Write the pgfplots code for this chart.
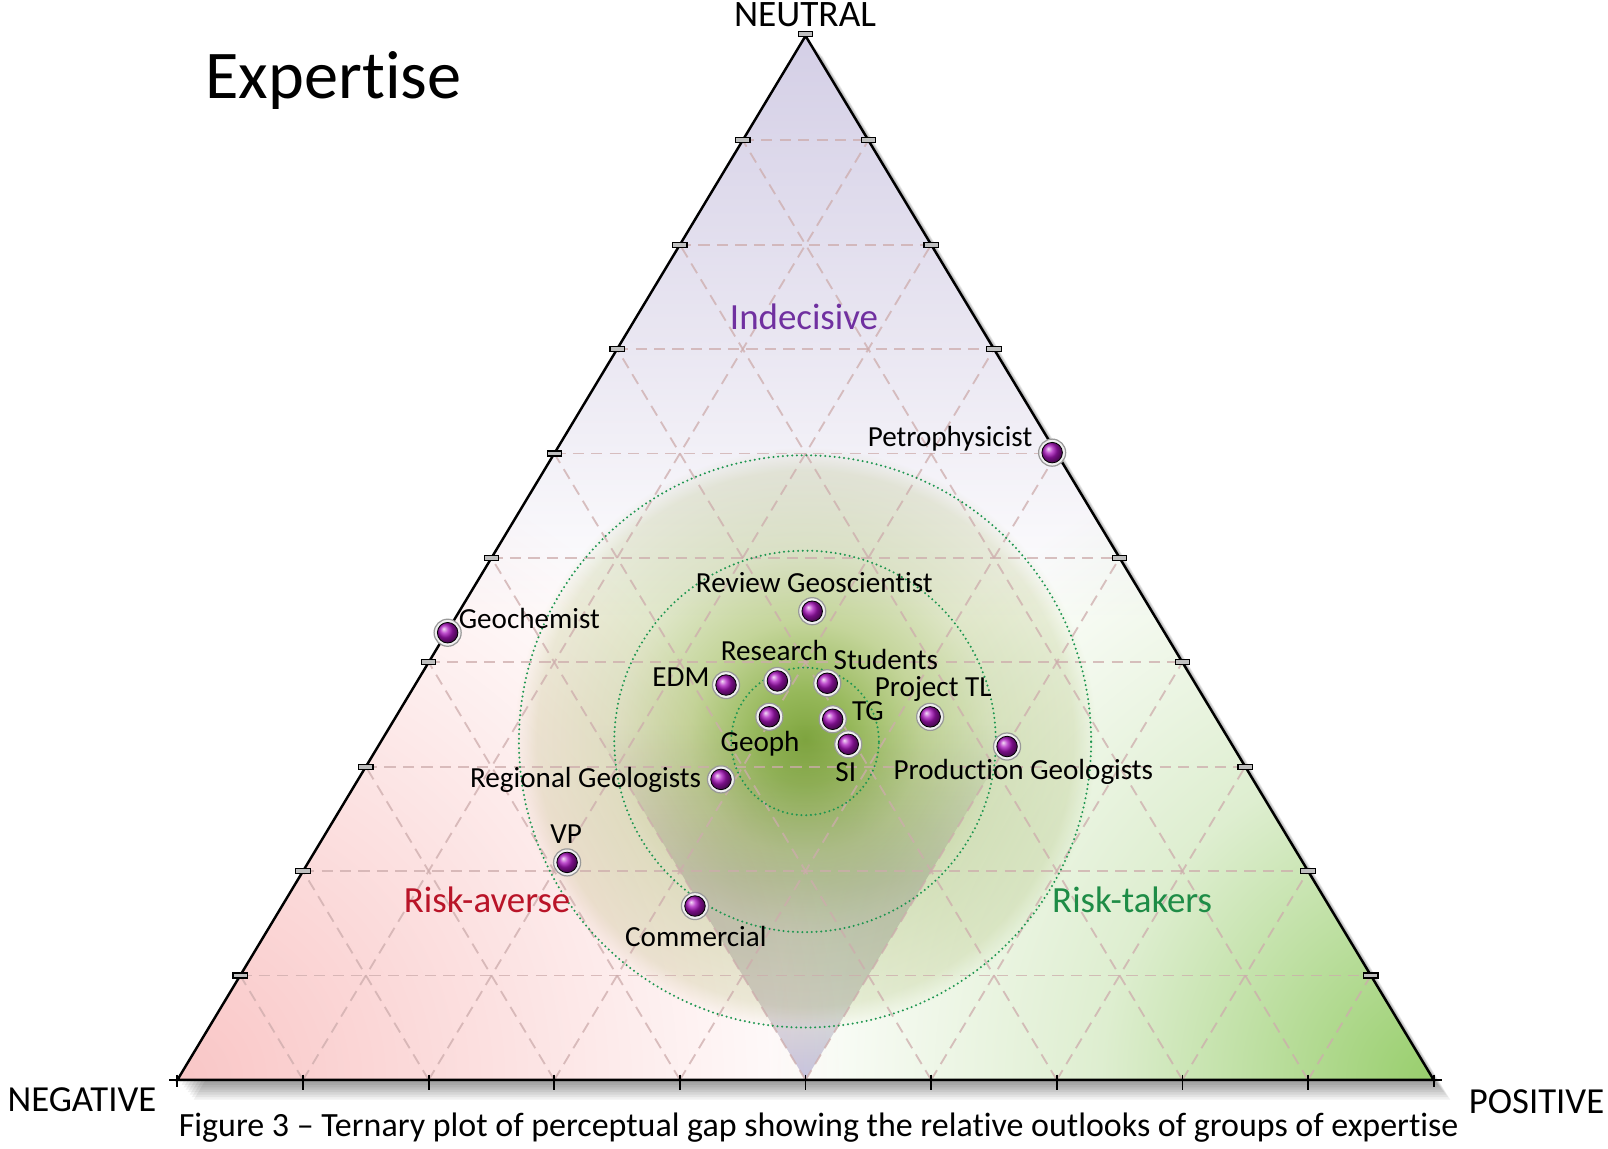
\documentclass[border=0pt]{standalone}
\usepackage{pgfplots}
\pgfplotsset{compat=1.18}
\usepackage{fontspec}
\setmainfont{Carlito}[Ligatures=NoCommon]

% colours
\definecolor{lavtop}{RGB}{212,207,230}
\definecolor{lavmid}{RGB}{234,231,242}
\definecolor{pink0}{RGB}{249,198,198}
\definecolor{pink1}{RGB}{252,226,226}
\definecolor{grn0}{RGB}{152,206,108}
\definecolor{grn1}{RGB}{222,238,208}
\definecolor{glow0}{RGB}{128,166,64}
\definecolor{glow1}{RGB}{150,184,90}
\definecolor{glow2}{RGB}{196,213,154}
\definecolor{glow3}{RGB}{224,231,202}
\definecolor{glow4}{RGB}{236,239,220}
\definecolor{wedgelav}{RGB}{202,198,230}
\definecolor{wedgegrey}{RGB}{221,219,223}
\definecolor{gridc}{RGB}{205,172,172}
\definecolor{circc}{RGB}{30,150,80}
\definecolor{indec}{RGB}{112,48,160}
\definecolor{averse}{RGB}{185,20,40}
\definecolor{takers}{RGB}{30,140,70}
\definecolor{ballc}{RGB}{170,20,190}

% a path's bounding box takes the middle 25bp..75bp of a shading
\pgfdeclareverticalshading{lavshade}{100bp}{color(0bp)=(white); color(47bp)=(white); color(60bp)=(lavmid); color(75bp)=(lavtop); color(100bp)=(lavtop)}
\pgfdeclareverticalshading{wedge}{100bp}{color(0bp)=(wedgelav); color(25bp)=(wedgelav); color(33bp)=(wedgegrey); color(50bp)=(wedgegrey); color(70bp)=(white); color(100bp)=(white)}
\pgfdeclareradialshading{pinkglow}{\pgfpoint{0bp}{0bp}}{color(0bp)=(pink0); color(12.5bp)=(pink1); color(25bp)=(white); color(50bp)=(white)}
\pgfdeclareradialshading{greenglow}{\pgfpoint{0bp}{0bp}}{color(0bp)=(grn0); color(12.5bp)=(grn1); color(25bp)=(white); color(50bp)=(white)}
\pgfdeclareradialshading{glow}{\pgfpoint{0bp}{0bp}}{color(0bp)=(glow0); color(4bp)=(glow1); color(10bp)=(glow2); color(16.5bp)=(glow3); color(23bp)=(glow4); color(25bp)=(white); color(50bp)=(white)}

\newcommand\lblfont{\fontsize{14.2}{17}\selectfont}
\newcommand\regfont{\fontsize{18}{21}\selectfont}

% one group: x, y, label anchor, label dx, label dy, label
\newcommand\grp[6]{%
  \addplot[only marks, mark=*, mark size=6.6pt,
    mark options={fill=white!88!gray, draw=gray!80, line width=0.6pt}]
    coordinates {(#1,#2)};
  \addplot[only marks, mark=ball, mark size=5pt, mark options={ball color=ballc},
    nodes near coords={#6},
    every node near coord/.append style={anchor=#3, xshift=#4pt, yshift=#5pt,
      font=\lblfont, text=black, inner sep=0pt}]
    coordinates {(#1,#2)};
}

\begin{document}
\begin{tikzpicture}
\begin{axis}[
    at={(86.5pt,33.5pt)}, anchor=south west,
    scale only axis, width=612.5pt, height=509pt,
    xmin=0, xmax=1, ymin=0, ymax=1,
    hide axis, clip=false,
]
% drop shadow of the triangle
\pgfplotsinvokeforeach{1,...,8}{
  \fill[black, opacity=0.06, xshift=#1*1pt, yshift=-#1*1.2pt]
    (axis cs:0,0) -- (axis cs:1,0) -- (axis cs:0.5,1) -- cycle;
}
\fill[white] (axis cs:0,0) -- (axis cs:1,0) -- (axis cs:0.5,1) -- cycle;

% background colouring
\begin{scope}
  \clip (axis cs:0,0) -- (axis cs:1,0) -- (axis cs:0.5,1) -- cycle;
  \shade[shading=lavshade] (axis cs:0,0) rectangle (axis cs:1,1);
  \begin{scope}[blend mode=multiply]
    \shade[shading=pinkglow] (axis cs:0,0) circle[radius=325pt];
    \shade[shading=greenglow] (axis cs:1,0) circle[radius=325pt];
    \shade[shading=wedge] (axis cs:0.5,0) -- (axis cs:0.31,0.38) -- (axis cs:0.69,0.38) -- cycle;
    \shade[shading=glow] (axis cs:0.4996,0.3271) circle[radius=142pt];
  \end{scope}
\end{scope}

% dashed ternary grid
\pgfplotsinvokeforeach{1,...,9}{
  \draw[gridc, opacity=0.75, line width=0.9pt, dash pattern=on 5.5pt off 3.5pt]
    (axis cs:{#1/20},{#1/10}) -- (axis cs:{1-#1/20},{#1/10});
  \draw[gridc, opacity=0.75, line width=0.9pt, dash pattern=on 5.5pt off 3.5pt]
    (axis cs:{#1/10},0) -- (axis cs:{0.5+#1/20},{1-#1/10});
  \draw[gridc, opacity=0.75, line width=0.9pt, dash pattern=on 5.5pt off 3.5pt]
    (axis cs:{#1/10},0) -- (axis cs:{#1/20},{#1/10});
}

% triangle and ticks
\draw[black, line width=1.2pt, line join=miter]
  (axis cs:0,0) -- (axis cs:1,0) -- (axis cs:0.5,1) -- cycle;
\pgfplotsinvokeforeach{1,...,9}{
  \draw[black, line width=0.9pt] (axis cs:{#1/10},0) ++(0,2.5pt) -- ++(0,-7.5pt);
  \draw[black, fill=gray!50, line width=0.6pt] (axis cs:{#1/20},{#1/10}) ++(-3.5pt,-1.2pt) rectangle ++(7pt,2.4pt);
  \draw[black, fill=gray!50, line width=0.6pt] (axis cs:{1-#1/20},{#1/10}) ++(-3.5pt,-1.2pt) rectangle ++(7pt,2.4pt);
}
\draw[black, fill=gray!50, line width=0.6pt] (axis cs:0.5,1) ++(-3.5pt,-0.4pt) rectangle ++(7pt,2.4pt);
\draw[black, line width=0.9pt] (axis cs:0,0) ++(-4pt,0) -- ++(8pt,0) (axis cs:0,0) ++(0,2.5pt) -- ++(0,-6pt);
\draw[black, line width=0.9pt] (axis cs:1,0) ++(-4pt,0) -- ++(8pt,0) (axis cs:1,0) ++(0,2.5pt) -- ++(0,-6pt);

% dotted rings round the centre
\pgfplotsinvokeforeach{36,93,139.5}{
  \draw[circc, line width=1.1pt, line cap=round, dash pattern=on 0pt off 2.3pt]
    (axis cs:0.4996,0.3242) circle[radius=#1pt];
}

% region names
\node[text=indec, font=\regfont] at (axis cs:0.4988,0.7308) {Indecisive};
\node[text=averse, font=\regfont] at (axis cs:0.2465,0.1729) {Risk-averse};
\node[text=takers, font=\regfont] at (axis cs:0.7600,0.1729) {Risk-takers};

% the groups
\grp{0.6963}{0.6008}{base east}{-9.5}{2.9}{Petrophysicist}
\grp{0.2151}{0.4283}{base west}{5.25}{2.15}{Geochemist}
\grp{0.5053}{0.4489}{base}{1}{9}{Review Geoscientist}
\grp{0.4367}{0.3782}{base east}{-7.85}{-0.8}{EDM}
\grp{0.4776}{0.3821}{base}{-1.5}{10.2}{Research}
\grp{0.5173}{0.3799}{base west}{2.9}{6.5}{Students}
\grp{0.4712}{0.3478}{base}{-4.5}{-16.7}{Geoph}
\grp{0.5216}{0.3454}{base west}{9.25}{-0.8}{TG}
\grp{0.5340}{0.3214}{base}{-1.2}{-18.2}{SI}
\grp{0.5992}{0.3477}{base}{1.5}{9.85}{Project TL}
\grp{0.6604}{0.3193}{base west}{-55.5}{-16}{Production Geologists}
\grp{0.4327}{0.2878}{base east}{-9.5}{-4}{Regional Geologists}
\grp{0.3102}{0.2083}{base}{-0.5}{9}{VP}
\grp{0.4120}{0.1665}{base}{0.4}{-19.75}{Commercial}
\end{axis}

\node[anchor=base west, font=\fontsize{33.3}{38}\selectfont, inner sep=0pt] at (100pt,511.75pt) {Expertise};
\node[anchor=base, font=\fontsize{18.2}{21}\selectfont, inner sep=0pt] at (392.5pt,547pt) {NEUTRAL};
\node[anchor=base west, font=\fontsize{17.9}{21}\selectfont, inner sep=0pt] at (3.5pt,18pt) {NEGATIVE};
\node[anchor=base west, font=\fontsize{17.9}{21}\selectfont, inner sep=0pt] at (716pt,17pt) {POSITIVE};
\node[anchor=base west, font=\fontsize{16.55}{19}\selectfont, inner sep=0pt] at (87pt,6pt)
  {Figure 3 -- Ternary plot of perceptual gap showing the relative outlooks of groups of expertise};

\pgfresetboundingbox
\useasboundingbox (0,0) rectangle (784pt,560pt);
\end{tikzpicture}
\end{document}
